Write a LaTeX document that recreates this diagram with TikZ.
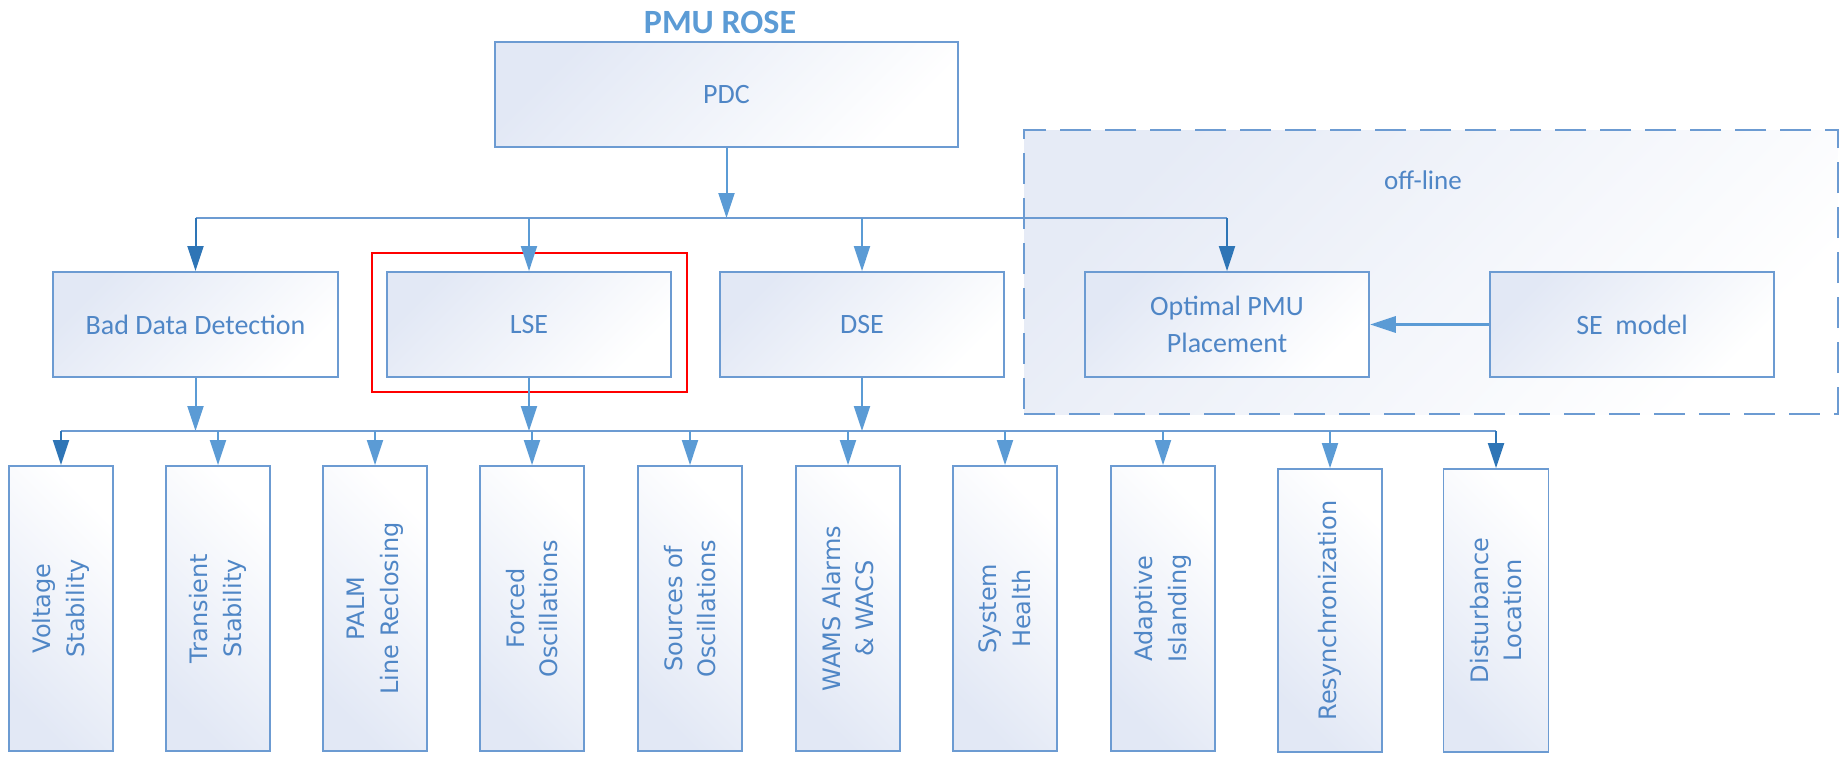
\documentclass[tikz,border=0pt]{standalone}
\usepackage{fontspec}
\setmainfont{Carlito}
\newfontfamily\vfont{DejaVu Sans}
\usetikzlibrary{arrows.meta}
\definecolor{boxline}{HTML}{6C9BD2}
\definecolor{arrlight}{HTML}{5B9BD5}
\definecolor{arrdark}{HTML}{2E75B6}
\definecolor{txtblue}{HTML}{4F86C6}
\definecolor{boxtint}{HTML}{E2E8F5}
\definecolor{regiontint}{HTML}{E6EBF6}
\begin{document}
\begin{tikzpicture}[x=1pt,y=-1pt,
  hbox/.style={draw=boxline, line width=1.8pt, top color=boxtint, middle color=white,
    bottom color=white, shading angle=45, minimum width=284pt, minimum height=105pt,
    inner sep=0pt, text=txtblue, font=\fontsize{28}{37}\selectfont, align=center},
  vbox/.style={draw=boxline, line width=1.8pt, top color=boxtint, middle color=white,
    bottom color=white, shading angle=135, minimum width=104pt, minimum height=285pt,
    inner sep=0pt},
  vtext/.style={rotate=90, text=txtblue, font=\vfont\fontsize{24}{33.5}\selectfont,
    align=center, inner sep=0pt},
  bus/.style={draw=boxline, line width=2pt},
  arrL/.style={draw=arrlight, line width=2pt, -{Triangle[length=25pt,width=16pt]}},
  arrD/.style={draw=arrdark, line width=2pt, -{Triangle[length=25pt,width=16pt]}}
]
\useasboundingbox (0,0) rectangle (1845,756);

% off-line region
\node[draw=boxline, line width=1.8pt, dash pattern=on 31pt off 14pt,
      top color=regiontint, bottom color=white, shading angle=45,
      minimum width=814pt, minimum height=284pt, inner sep=0pt] (offline) at (1431,272) {};
\node[text=txtblue, font=\fontsize{27}{32}\selectfont] (offlbl) at (1423,180) {off-line};

% title and top level
\node[text=arrlight, font=\bfseries\fontsize{34}{40}\selectfont] (title) at (720,22) {PMU ROSE};
\node[hbox, minimum width=463pt] (pdc) at (726.5,94.5) {PDC};

% second level
\node[hbox, minimum width=285pt] (bdd) at (195.5,324.5) {Bad Data Detection};
\node[hbox] (lse) at (529,324.5) {LSE};
\node[hbox] (dse) at (862,324.5) {DSE};
\node[hbox] (opp) at (1227,324.5) {Optimal PMU\\Placement};
\node[hbox] (sem) at (1632,324.5) {SE\ \ model};
\node[draw=red, line width=2pt, minimum width=315pt, minimum height=139pt, inner sep=0pt] (hl) at (529.5,322.5) {};

% applications
\node[vbox, label={[vtext]center:{Voltage\\Stability}}] (v1) at (61,608.5) {};
\node[vbox, label={[vtext]center:{Transient\\Stability}}] (v2) at (218,608.5) {};
\node[vbox, label={[vtext]center:{PALM\\Line Reclosing}}] (v3) at (375,608.5) {};
\node[vbox, label={[vtext]center:{Forced\\Oscillations}}] (v4) at (532,608.5) {};
\node[vbox, label={[vtext]center:{Sources of\\Oscillations}}] (v5) at (690,608.5) {};
\node[vbox, label={[vtext]center:{WAMS Alarms\\\& WACS}}] (v6) at (848,608.5) {};
\node[vbox, label={[vtext]center:{System\\Health}}] (v7) at (1005,608.5) {};
\node[vbox, label={[vtext]center:{Adaptive\\Islanding}}] (v8) at (1163,608.5) {};
\node[vbox, minimum height=283pt, label={[vtext]center:{Resynchronization}}] (v9) at (1330,610.5) {};
\node[vbox, minimum height=283pt, minimum width=105pt, label={[vtext]center:{Disturbance\\Location}}] (v10) at (1496,610.5) {};

% bus levels
\coordinate (tb) at (0,218);
\coordinate (bb) at (0,431);

% PDC to second level
\draw[arrL] (pdc.south) -- (pdc.south |- tb);
\draw[bus] (bdd.north |- tb) -- (opp.north |- tb);
\draw[arrD] (bdd.north |- tb) -- (bdd.north);
\draw[arrL] (lse.north |- tb) -- (lse.north);
\draw[arrL] (dse.north |- tb) -- (dse.north);
\draw[arrD] (opp.north |- tb) -- (opp.north);

% SE model feeds placement
\draw[draw=arrlight, line width=3.3pt, -{Triangle[length=26pt,width=16pt]}] (sem.west) -- (opp.east);

% second level to applications
\foreach \s in {bdd,lse,dse} \draw[arrL] (\s.south) -- (\s.south |- bb);
\draw[bus] (v1.north |- bb) -- (v10.north |- bb);
\draw[arrD] (v1.north |- bb) -- (v1.north);
\foreach \v in {v2,v3,v4,v5,v6,v7,v8,v9} \draw[arrL] (\v.north |- bb) -- (\v.north);
\draw[arrD] (v10.north |- bb) -- (v10.north);
\end{tikzpicture}
\end{document}
